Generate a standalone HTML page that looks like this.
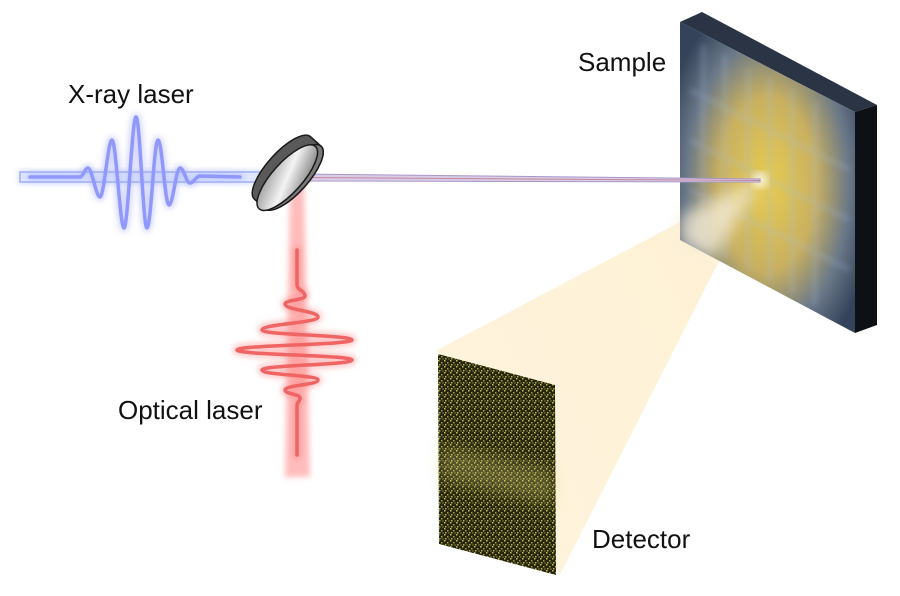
<!DOCTYPE html>
<html><head><style>
body{margin:0;background:#fff;}
svg{display:block;}
text{font-family:"Liberation Sans",sans-serif;font-size:26px;fill:#111;}
</style></head><body>
<svg width="900" height="596" viewBox="0 0 900 596" xmlns="http://www.w3.org/2000/svg">
<defs>
<filter id="glow" x="-20%" y="-20%" width="140%" height="140%"><feGaussianBlur stdDeviation="3"/></filter>
<filter id="blur8" x="-50%" y="-50%" width="200%" height="200%"><feGaussianBlur stdDeviation="8"/></filter>
<filter id="blur4"><feGaussianBlur stdDeviation="4"/></filter>
<linearGradient id="cone" x1="1" y1="0" x2="0" y2="0.6">
<stop offset="0" stop-color="#fdf0d4"/>
<stop offset="1" stop-color="#fff4dc"/>
</linearGradient>
<radialGradient id="samp" cx="0.5" cy="0.52" r="0.62">
<stop offset="0" stop-color="#e8cc50"/>
<stop offset="0.45" stop-color="#c8b060"/>
<stop offset="0.75" stop-color="#6a7888"/>
<stop offset="1" stop-color="#34435a"/>
</radialGradient>
<linearGradient id="mir" x1="0" y1="0" x2="1" y2="1">
<stop offset="0" stop-color="#888"/><stop offset="0.5" stop-color="#f4f4f4"/><stop offset="1" stop-color="#666"/>
</linearGradient>
<pattern id="noise" width="6" height="6" patternUnits="userSpaceOnUse">
<rect width="6" height="6" fill="#25250f"/>
<rect x="0" y="0" width="1.5" height="1.5" fill="#c8c058"/>
<rect x="3" y="2" width="1.5" height="1.5" fill="#a8a040"/>
<rect x="1" y="4" width="1.5" height="1.5" fill="#b8b048"/>
<rect x="4.5" y="4.5" width="1" height="1" fill="#d0c860"/>
</pattern>
</defs>

<!-- scattered cone -->
<polygon points="760,180 437,350 560,575" fill="url(#cone)"/>

<!-- detector -->
<polygon points="438,354 555,385 556,575 439,544" fill="url(#noise)"/>
<polygon points="440,445 555,470 555,505 440,480" fill="#d0c870" opacity="0.3" filter="url(#blur8)"/>

<!-- sample slab -->
<polygon points="680,22 702,12 877,105 855,112" fill="#2a3444"/>
<polygon points="855,112 877,105 877,325 855,333" fill="#0d1014"/>
<polygon points="680,22 855,112 855,333 680,240" fill="url(#samp)"/>
<g opacity="0.3" stroke="#a8bcd8" stroke-width="4" filter="url(#glow)">
<line x1="703" y1="45" x2="703" y2="245"/>
<line x1="725" y1="55" x2="725" y2="258"/><line x1="748" y1="67" x2="748" y2="270"/>
<line x1="770" y1="78" x2="770" y2="282"/><line x1="792" y1="90" x2="792" y2="294"/>
<line x1="815" y1="102" x2="815" y2="305"/>
<line x1="690" y1="90" x2="850" y2="170"/><line x1="690" y1="140" x2="850" y2="220"/><line x1="690" y1="190" x2="850" y2="270"/>
</g>
<polygon points="760,180 680,215 680,245 715,258" fill="#f6ecd4" opacity="0.8" filter="url(#blur8)"/>
<circle cx="760" cy="180" r="8" fill="#fff" opacity="0.7" filter="url(#blur4)"/>

<!-- x-ray beam -->
<rect x="18" y="170" width="270" height="14" fill="#c8d4ff" opacity="0.7" filter="url(#glow)"/>
<rect x="20" y="172" width="266" height="10" fill="#dfe6ff" stroke="#9fb0f0" stroke-width="1.5"/>
<g fill="none" stroke-linecap="round">
<path id="xw" d="M30,177 L80,177 C83,177 85,168 88,168 C92,168 96,197 100,197 C104,197 108,140 112,140 C116,140 120,228 124,228 C128,228 132,117 136,117 C140,117 143,228 147,228 C151,228 154,140 158,140 C162,140 165,205 169,205 C173,205 176,168 180,168 C184,168 186,183 190,183 C194,183 196,176 200,176 L240,177" stroke="#a0a8ff" stroke-width="8" opacity="0.45" filter="url(#glow)"/>
<path d="M30,177 L80,177 C83,177 85,168 88,168 C92,168 96,197 100,197 C104,197 108,140 112,140 C116,140 120,228 124,228 C128,228 132,117 136,117 C140,117 143,228 147,228 C151,228 154,140 158,140 C162,140 165,205 169,205 C173,205 176,168 180,168 C184,168 186,183 190,183 C194,183 196,176 200,176 L240,177" stroke="#9098fa" stroke-width="3.5"/>
</g>
<polygon points="300,174 760,179 760,182 300,181" fill="#d8cce8" stroke="#a898c8" stroke-width="1"/>
<line x1="300" y1="177.5" x2="760" y2="180.5" stroke="#c88898" stroke-width="1"/>

<!-- red beam -->
<polygon points="290,182 304,182 310,477 285,477" fill="#ffb0b0" opacity="0.85" filter="url(#glow)"/>
<g fill="none" stroke-linecap="round">
<path d="M297,250 L297,285 C297,290 305,291 305,296 C305,300 285,300 285,304 C285,310 318,311 318,317 C318,323 262,324 262,330 C262,335 352,335 352,340 C352,345 237,345 237,350 C237,355 352,355 352,360 C352,365 262,365 262,370 C262,375 318,375 318,380 C318,385 285,385 285,390 C285,394 300,394 300,398 C300,402 297,402 297,405 L297,455" stroke="#ff7a7a" stroke-width="9" opacity="0.4" filter="url(#glow)"/>
<path d="M297,250 L297,285 C297,290 305,291 305,296 C305,300 285,300 285,304 C285,310 318,311 318,317 C318,323 262,324 262,330 C262,335 352,335 352,340 C352,345 237,345 237,350 C237,355 352,355 352,360 C352,365 262,365 262,370 C262,375 318,375 318,380 C318,385 285,385 285,390 C285,394 300,394 300,398 C300,402 297,402 297,405 L297,455" stroke="#f06464" stroke-width="3.5"/>
</g>

<!-- mirror -->
<g transform="translate(287,172) rotate(-48)">
<path d="M-42,-6 A42,15 0 0 1 42,-6 L42,8 A42,15 0 0 1 -42,8 Z" fill="#5a5a5a" stroke="#1a1a1a" stroke-width="1.5"/>
<ellipse cx="0" cy="8" rx="42" ry="15" fill="#7a7a7a" stroke="#1a1a1a" stroke-width="1.5"/>
<ellipse cx="0" cy="-6" rx="42" ry="15" fill="url(#mir)" stroke="#1a1a1a" stroke-width="1.5" transform="translate(-4,10)"/>
</g>

<text x="68" y="103">X-ray laser</text>
<text x="578" y="71">Sample</text>
<text x="118" y="419">Optical laser</text>
<text x="592" y="548">Detector</text>
</svg>
</body></html>
